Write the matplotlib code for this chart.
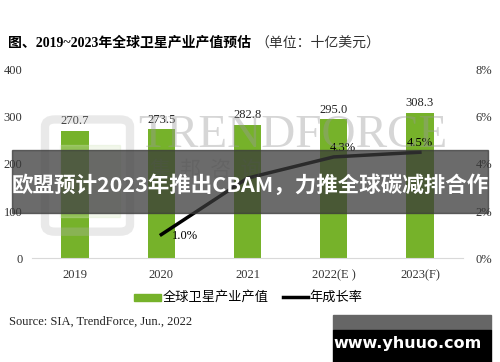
import matplotlib.pyplot as plt
from matplotlib.patches import FancyBboxPatch
import numpy as np

# data
years = ['2019', '2020', '2021', '2022(E )', '2023(F)']
output_val = [270.7, 273.5, 282.8, 295.0, 308.3]
growth_yrs = [1, 2, 3, 4]
growth = [1.0, 3.4, 4.3, 4.5]
growth_lbl = {1: '1.0%', 3: '4.3%', 4: '4.5%'}

serif = ['Liberation Serif', 'Noto Sans CJK SC']
sans = ['Noto Sans CJK SC', 'DejaVu Sans']
plt.rcParams['font.family'] = serif

fig = plt.figure(figsize=(5, 3.62), dpi=100)
ax = fig.add_axes([0.064, 0.287, 0.862, 0.52])
ax2 = ax.twinx()

x = np.arange(len(years))
ax.bar(x, output_val, width=0.32, color='#76b22a', zorder=2)
for i, v in enumerate(output_val):
    ax.text(i, v + 8, '%.1f' % v, ha='center', va='bottom', fontsize=9, color='#222222')

ax2.plot(growth_yrs, growth, color='black', lw=2.5, zorder=3)
for i, t in growth_lbl.items():
    g = growth[growth_yrs.index(i)]
    if i == 1:
        ax2.text(i + 0.12, g - 0.05, t, ha='left', va='center', fontsize=9)
    elif i == 3:
        ax2.text(i + 0.1, g + 0.12, t, ha='center', va='bottom', fontsize=9)
    else:
        ax2.text(i, g + 0.15, t, ha='center', va='bottom', fontsize=9)

ax.set_xlim(-0.5, 4.5)
ax.set_ylim(0, 400)
ax2.set_ylim(0, 8)
ax.set_yticks([0, 100, 200, 300, 400])
ax2.set_yticks([0, 2, 4, 6, 8])
ax2.set_yticklabels(['0%', '2%', '4%', '6%', '8%'])
ax.set_xticks(x)
ax.set_xticklabels(years)
for a in (ax, ax2):
    for s in a.spines.values():
        s.set_visible(False)
    a.tick_params(length=0, labelsize=9, colors='#333333')
ax.spines['bottom'].set_visible(True)
ax.spines['bottom'].set_color('#d9d9d9')
ax.tick_params(axis='y', pad=7)
ax2.tick_params(axis='y', pad=9)
ax.tick_params(axis='x', pad=8)

# trendforce watermark (logo + name)
fig.patches.append(FancyBboxPatch((0.09, 0.36), 0.17, 0.31, transform=fig.transFigure,
                                  boxstyle='round,pad=0,rounding_size=0.02',
                                  facecolor='none', edgecolor='#b8b8b8', lw=6, alpha=0.3))
fig.patches.append(plt.Rectangle((0.12, 0.4), 0.12, 0.2, transform=fig.transFigure,
                                 color='#d6e6c0', alpha=0.3))
fig.text(0.276, 0.625, 'TRENDFORCE', fontsize=34, color='#9a9a9a', alpha=0.4,
         ha='left', va='center', family='Liberation Serif')
fig.text(0.3, 0.53, '集  邦  咨  询', fontsize=15, color='#9a9a9a', alpha=0.3,
         ha='left', va='center', family=sans)

# title
fig.text(0.016, 0.881, '图、2019~2023年全球卫星产业产值预估', fontsize=10, fontweight='bold',
         ha='left', va='center', family=serif)
fig.text(0.51, 0.881, '（单位：十亿美元）', fontsize=10, ha='left', va='center', family=sans,
         color='#333333')

# legend
fig.patches.append(plt.Rectangle((0.268, 0.169), 0.054, 0.02, transform=fig.transFigure,
                                 color='#76b22a'))
fig.text(0.326, 0.179, '全球卫星产业产值', fontsize=9.5, ha='left', va='center', family=sans)
fig.add_artist(plt.Line2D([0.566, 0.616], [0.179, 0.179], color='black', lw=2.5,
                          transform=fig.transFigure))
fig.text(0.618, 0.179, '年成长率', fontsize=9.5, ha='left', va='center', family=sans)

fig.text(0.018, 0.11, 'Source: SIA, TrendForce, Jun., 2022', fontsize=9, ha='left', va='center',
         color='#222222')

# overlay banner
fig.patches.append(plt.Rectangle((0.024, 0.412), 0.952, 0.173, transform=fig.transFigure,
                                 color='#3a3a3a', alpha=0.75, zorder=5))
fig.text(0.5, 0.49, '欧盟预计2023年推出CBAM，力推全球碳减排合作', fontsize=15.5, fontweight='bold',
         color='white', ha='center', va='center', family=sans, zorder=6)

# site watermark
fig.patches.append(plt.Rectangle((0.666, 0.088), 0.316, 0.042, transform=fig.transFigure,
                                 color='#666666', zorder=5))
fig.patches.append(plt.Rectangle((0.666, 0.0), 0.316, 0.088, transform=fig.transFigure,
                                 color='black', zorder=5))
fig.text(0.816, 0.05, 'www.yhuuo.com', fontsize=11.5, fontweight='bold', color='white',
         ha='center', va='center', family='DejaVu Sans', zorder=6)

fig.savefig('out.png', dpi=100)
